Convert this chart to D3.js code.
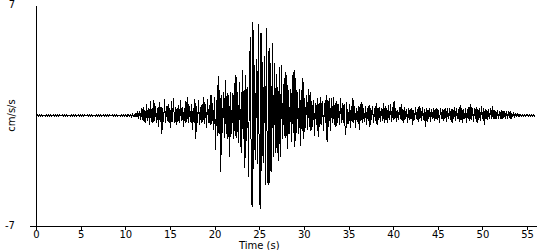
<!DOCTYPE html>
<html>
<head>
<meta charset="utf-8">
<script src="https://cdn.jsdelivr.net/npm/d3@7"></script>
<style>
body { margin: 0; background: #fff; }
text { font-family: "DejaVu Sans", sans-serif; font-size: 10px; fill: #000; }
</style>
</head>
<body>
<svg id="chart" width="550" height="250"></svg>
<script>
"use strict";

// ticks
const xTicks = [0, 5, 10, 15, 20, 25, 30, 35, 40, 45, 50, 55];
const yTicks = [7, -7];

// pre-event noise, from 0 s, one value every 0.1 s
const preEvent = [
    0.04, -0.04, 0.04, -0.04, 0.04, -0.04, 0.04, -0.04, 0.04, -0.04,
    0.04, -0.04, 0.04, -0.04, 0.04, -0.04, 0.04, -0.04, 0.04, -0.04,
    0.04, -0.04, 0.04, -0.04, 0.04, -0.04, 0.04, -0.04, 0.04, -0.04,
    0.04, -0.04, 0.04, -0.04, 0.04, -0.04, 0.04, -0.04, 0.04, -0.04,
    0.04, -0.04, 0.04, -0.04, 0.04, -0.04, 0.04, -0.04, 0.04, -0.04,
    0.04, -0.04, 0.04, -0.04, 0.04, -0.04, 0.04, -0.04, 0.04, -0.04,
    0.04, -0.04, 0.04, -0.04, 0.04, -0.04, 0.04, -0.04, 0.04, -0.04,
    0.04, -0.04, 0.04, -0.04, 0.04, -0.04, 0.04, -0.04, 0.04, -0.04,
    0.04, -0.04, 0.04, -0.04, 0.04, -0.04, 0.04, -0.04, 0.04, -0.04,
    0.04, -0.04, 0.04, -0.04, 0.04, -0.04, 0.04, -0.04, 0.04, -0.04,
    0.04, -0.04, 0.05, -0.05, 0.05, -0.05, 0.06, -0.06, 0.07, -0.07
];

// onset and P coda, from 11 s, one value every 0.1 s
const pWave = [
    0.05, -0.08, 0.15, -0.12, 0.3, -0.2, 0.25, -0.3, 0.45, -0.3,
    0.55, -0.4, 0.35, -0.45, 0.75, -0.35, 0.5, -0.6, 0.9, -0.4,
    0.45, -0.5, 1.0, -0.35, 0.6, -0.45, 0.5, -0.7, 0.85, -0.4,
    0.55, -1.15, 0.45, -0.4, 1.05, -0.5, 0.6, -0.35, 0.75, -0.45,
    0.5, -0.8, 0.9, -0.4, 1.1, -0.45, 0.55, -0.6, 0.45, -0.4,
    0.65, -0.5, 1.0, -0.35, 0.55, -0.75, 0.5, -0.45, 0.9, -0.4,
    1.15, -0.5, 0.6, -0.4, 0.7, -0.9, 0.5, -0.45, 1.05, -1.5,
    0.6, -0.45, 0.95, -0.6, 0.55, -0.5, 0.7, -0.4, 1.2, -0.55,
    0.7, -0.8, 1.05, -0.5, 0.65, -0.6, 1.3, -0.55, 0.8, -0.9
];

// strong motion, from 20 s, one value every 0.1 s
const sWave = [
    1.2, -2.2, 1.0, -1.3, 2.5, -1.2, 1.6, -3.6, 1.3, -1.1,
    1.5, -1.4, 2.25, -1.2, 1.4, -1.5, 1.3, -2.6, 1.5, -1.2,
    1.4, -1.5, 2.05, -1.3, 2.56, -1.4, 1.5, -1.75, 2.1, -1.3,
    -2.4, 2.9, -1.5, 1.6, -3.3, 2.56, -1.6, 1.8, -3.9, 2.2,
    4.97, -3.0, -5.8, 5.9, -3.4, 3.2, -2.8, 3.6, -3.1, 5.8,
    -3.2, -5.9, 5.2, -3.5, 3.4, -3.0, 3.8, -4.4, 5.54, -3.4,
    -4.4, 4.3, -4.3, 3.3, -3.6, 4.6, -2.6, 3.3, -2.4, 2.6,
    -2.4, 1.8, -2.9, 3.1, -2.6, 3.2, -1.5, 2.0, -1.3, 2.75,
    -1.4, 2.56, -2.1, 1.6, -1.2, 1.7, -1.7, 2.56, -1.1, 2.9,
    -2.0, 2.4, -1.1, 1.5, -1.2, 1.7, -1.9, 1.6, -1.0, 2.4
];

// coda, from 30 s, one value every 0.1 s
const coda = [
    -1.5, 1.1, -0.8, 1.3, -0.9, 1.7, -0.7, 1.5, -1.0, 0.9,
    -0.7, 1.0, -1.3, 0.8, -0.6, 1.1, -1.35, 0.8, -0.7, 1.2,
    -0.6, 0.9, -1.0, 0.8, -0.5, 1.3, -1.7, 1.0, -0.7, 1.1,
    -1.0, 1.1, -0.5, 1.17, -0.6, 0.8, -0.7, 0.9, -0.5, 0.7,
    -0.6, 1.13, -0.5, 0.8, -0.45, 0.7, -0.6, -1.25, 0.87, -0.5,
    -0.5, 0.7, -0.8, 0.6, -0.4, 1.1, -0.5, 0.6, -0.8, 0.5,
    -0.4, 0.6, -0.9, 0.7, -0.35, 0.87, -0.45, 0.5, -0.4, 0.6,
    -0.6, 0.5, -0.35, 0.65, -0.7, 0.5, -0.3, 0.6, -0.45, 0.5,
    -0.35, 0.8, -0.6, 0.5, -0.3, 0.55, -0.4, 0.5, -0.35, 0.8,
    -0.5, 0.6, -0.3, 0.5, -0.45, 0.65, -0.3, 0.7, -0.4, 0.55
];

// late coda, from 40 s, one value every 0.1 s
const lateCoda = [
    -0.3, 0.9, -0.25, 0.5, -0.4, 0.35, -0.3, 0.55, -0.2, 0.7,
    -0.35, 0.4, -0.45, 0.55, -0.25, 0.4, -0.5, 0.45, -0.3, 0.4,
    -0.25, 0.5, -0.6, 0.35, -0.3, 0.55, -0.25, 0.4, -0.4, 0.6,
    -0.25, 0.45, -0.35, 0.55, -0.3, 0.4, -0.7, 0.45, -0.4, 0.35,
    -0.25, 0.5, -0.4, 0.4, -0.2, 0.45, -0.35, 0.4, -0.25, 0.5,
    -0.3, 0.35, -0.45, 0.5, -0.2, 0.4, -0.35, 0.4, -0.25, 0.45,
    -0.4, 0.45, -0.25, 0.5, -0.3, 0.4, -0.5, 0.4, -0.25, 0.55,
    -0.35, 0.45, -0.25, 0.4, -0.4, 0.65, -0.3, 0.5, -0.45, 0.4,
    -0.25, 0.45, -0.5, 0.4, -0.25, 0.55, -0.35, 0.75, -0.3, 0.45,
    -0.4, 0.5, -0.25, 0.55, -0.45, 0.4, -0.3, 0.5, -0.35, 0.6,
    -0.25, 0.45, -0.6, 0.4, -0.25, 0.35, -0.3, 0.4, -0.2, 0.5,
    -0.25, 0.6, -0.2, 0.35, -0.25, 0.3, -0.2, 0.35, -0.2, 0.3,
    -0.2, 0.35, -0.25, 0.3, -0.15, 0.3, -0.2, 0.25, -0.2, 0.25,
    -0.15, 0.25, -0.2, 0.15, -0.1, 0.2, -0.15, 0.12, -0.1, 0.15,
    -0.08, 0.1, -0.06, 0.08, -0.05, 0.06, -0.05, 0.06, -0.04, 0.05,
    -0.04, 0.05, -0.04, 0.04, -0.04, 0.04, -0.04, 0.04, -0.04, 0.04
];

// segments: start time (s), sample step (s), values
const segments = [
    {start: 0, step: 0.1, values: preEvent},
    {start: 11, step: 0.1, values: pWave},
    {start: 20, step: 0.1, values: sWave},
    {start: 30, step: 0.1, values: coda},
    {start: 40, step: 0.1, values: lateCoda}
];

let trace = [];
segments.forEach(s => {
    s.values.forEach((v, i) => {
        trace.push({t: s.start + i * s.step, a: v});
    });
});


// setting
const width = 550, height = 250;
const margin = {top: 5, right: 14, bottom: 24, left: 36};

let svg = d3.select("#chart");

let scaleX = d3.scaleLinear()
.domain([0, 56])
.range([margin.left, width - margin.right]);

let scaleY = d3.scaleLinear()
.domain([-7, 7])
.range([height - margin.bottom, margin.top]);


// trace
let line = d3.line()
.x(d => scaleX(d.t))
.y(d => scaleY(d.a));

svg.append("path")
.datum(trace)
.attr("d", line)
.attr("fill", "none")
.attr("stroke", "#000")
.attr("stroke-width", 1)
.attr("shape-rendering", "crispEdges");


// y axis
svg.append("g")
.attr("class", "y_axis")
.attr("transform", `translate(${margin.left}, 0)`)
.call(d3.axisLeft(scaleY).tickValues([-7]).tickSize(6).tickSizeOuter(0).tickFormat(""))
.call(g => g.selectAll("path, line").attr("stroke", "#000").attr("shape-rendering", "crispEdges"));

svg.selectAll("text.ytick")
.data(yTicks)
.enter()
.append("text")
.attr("class", "ytick")
.attr("x", 15)
.attr("y", d => scaleY(d) + 3)
.attr("text-anchor", "end")
.text(d => d);

svg.append("text")
.attr("transform", `translate(15, ${scaleY(0)}) rotate(-90)`)
.attr("text-anchor", "middle")
.text("cm/s/s");


// x axis
svg.append("g")
.attr("class", "x_axis")
.attr("transform", `translate(0, ${height - margin.bottom})`)
.call(d3.axisBottom(scaleX).tickValues(xTicks).tickSize(4).tickSizeOuter(0).tickPadding(1))
.call(g => g.selectAll("path, line").attr("stroke", "#000").attr("shape-rendering", "crispEdges"))
.call(g => g.selectAll("text").attr("font-family", null).attr("font-size", null));

svg.append("text")
.attr("x", scaleX(25))
.attr("y", height - 1)
.attr("text-anchor", "middle")
.text("Time (s)");
</script>
</body>
</html>
